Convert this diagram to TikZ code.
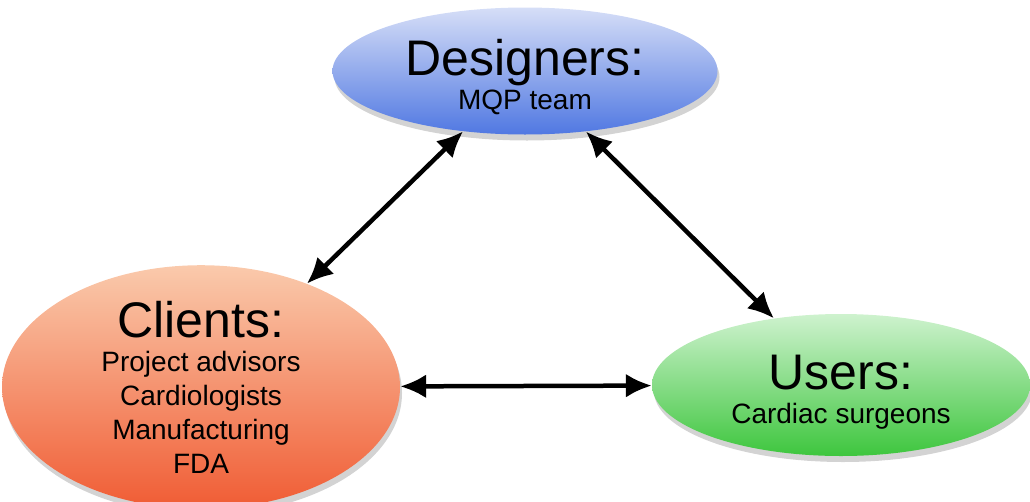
\documentclass[tikz,border=0pt]{standalone}
\usepackage{fontspec}
\setmainfont{Liberation Sans}
\usepackage{tikz}
\usetikzlibrary{positioning,shapes.geometric,arrows.meta,shadows}

\definecolor{desTop}{RGB}{214,222,247}
\definecolor{desBot}{RGB}{80,120,226}
\definecolor{cliTop}{RGB}{250,202,172}
\definecolor{cliBot}{RGB}{240,92,52}
\definecolor{usrTop}{RGB}{206,242,206}
\definecolor{usrBot}{RGB}{62,198,62}

\newcommand{\bigtxt}{\fontsize{50}{54}\selectfont}
\newcommand{\smalltxt}{\fontsize{28}{34}\selectfont}

\begin{document}
\begin{tikzpicture}[
    x=1pt, y=-1pt,
    group/.style={ellipse, inner sep=0pt, align=center, draw=none, font=\smalltxt,
        drop shadow={opacity=0.35, shadow xshift=2pt, shadow yshift=-6pt}},
    link/.style={{Latex[length=26pt,width=24pt]}-{Latex[length=26pt,width=24pt]}, line width=4.5pt, black}
]
\useasboundingbox (0,0) rectangle (1030,501);

% Groups
\node[group, top color=desTop, bottom color=desBot, minimum width=385, minimum height=127] (des) at (525,71)
    {{\bigtxt\rule{0pt}{48pt}Designers:}\\ MQP team};
\node[group, top color=cliTop, bottom color=cliBot, minimum width=398, minimum height=219] (cli) at (201,387)
    {{\bigtxt Clients:}\\ Project advisors\\ Cardiologists\\ Manufacturing\\ FDA};
\node[group, top color=usrTop, bottom color=usrBot, minimum width=378, minimum height=142] (usr) at (841,385)
    {{\bigtxt\rule{0pt}{48pt}Users:}\\ Cardiac surgeons};

% Links
\draw[link] (des) -- (cli);
\draw[link] (des) -- (usr);
\draw[link] (cli) -- (usr);

\end{tikzpicture}
\end{document}
